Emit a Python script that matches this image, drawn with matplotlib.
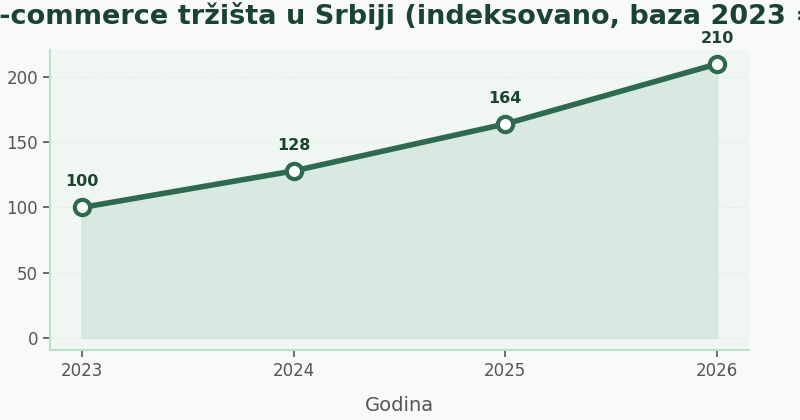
import matplotlib.pyplot as plt

# data
years = [2023, 2024, 2025, 2026]
index_values = [100, 128, 164, 210]
year_labels = ['2023', '2024', '2025', '2026']

line_color = '#2d6a4f'
text_color = '#1b4332'

fig, ax = plt.subplots(figsize=(8, 4.2), dpi=100)
fig.patch.set_facecolor('#f8f9fa')
ax.set_facecolor('#f0f7f3')
fig.subplots_adjust(left=0.0625, right=0.936, bottom=0.1667, top=0.881)

# area + line
ax.fill_between(years, 0, index_values, color='#d8e9e1', edgecolor='#cfe5da', linewidth=1, zorder=1)
ax.plot(years, index_values, color=line_color, linewidth=4, marker='o', markersize=11,
        markerfacecolor='white', markeredgecolor=line_color, markeredgewidth=3, zorder=3)

# value labels
for x, v in zip(years, index_values):
    ax.annotate(str(v), (x, v), xytext=(0, 13), textcoords='offset points',
                ha='center', va='bottom', fontsize=11.5, fontweight='bold', color=text_color)

ax.set_xlim(2022.85, 2026.15)
ax.set_ylim(-9.2, 220.7)
ax.set_xticks(years)
ax.set_xticklabels(year_labels)
ax.set_yticks([0, 50, 100, 150, 200])
ax.tick_params(axis='both', labelsize=12, colors='#555555', length=5, width=1.2)

ax.grid(axis='y', linestyle='--', color='#d8eee0', linewidth=0.8, alpha=0.6)
ax.set_axisbelow(True)

for s in ['top', 'right']:
    ax.spines[s].set_visible(False)
for s in ['left', 'bottom']:
    ax.spines[s].set_color('#b7e4c7')
    ax.spines[s].set_linewidth(1.5)

ax.set_xlabel('Godina', fontsize=14, color='#555555', labelpad=12)
ax.set_title('Rast e-commerce tržišta u Srbiji (indeksovano, baza 2023 = 100)',
             fontsize=19.5, fontweight='bold', color=text_color, pad=19)

plt.savefig('out.png', facecolor=fig.get_facecolor())
